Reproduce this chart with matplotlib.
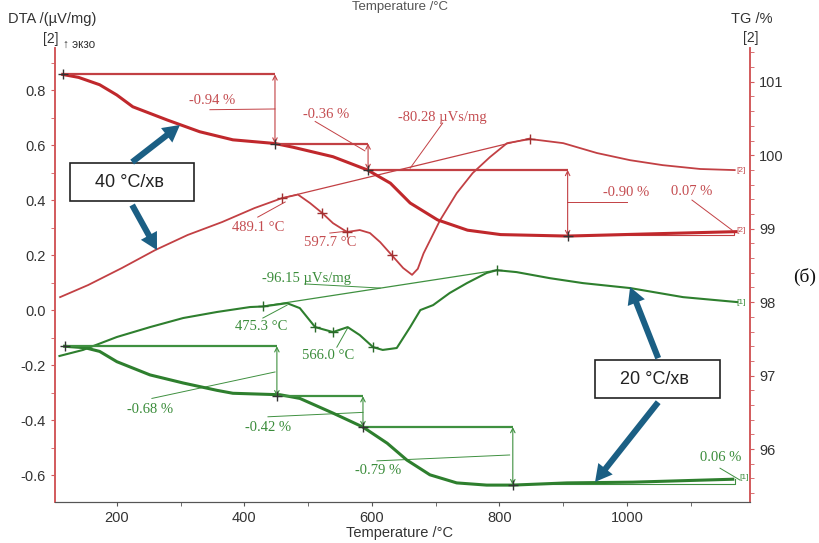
import matplotlib
matplotlib.use('Agg')
import matplotlib.pyplot as plt
from matplotlib.patches import Rectangle, FancyArrowPatch
from matplotlib.ticker import MultipleLocator

# ---------------- data ----------------
red_dta_T = [111, 155, 208, 260, 311, 365, 416, 459, 484, 503, 522, 539, 561, 581, 597, 613, 631, 649,
             663, 672, 681, 707, 733, 758, 785, 812, 848, 900, 953, 1005, 1056, 1115, 1169]
red_dta_v = [0.047, 0.091, 0.153, 0.218, 0.273, 0.320, 0.371, 0.407, 0.420, 0.389, 0.353, 0.316, 0.284,
             0.291, 0.280, 0.247, 0.200, 0.153, 0.128, 0.150, 0.206, 0.327, 0.425, 0.498, 0.556, 0.607,
             0.622, 0.607, 0.571, 0.545, 0.527, 0.513, 0.509]

red_tg_T = [115, 140, 173, 200, 225, 279, 330, 382, 448, 476, 539, 593, 629, 660, 703, 750, 802, 907,
            1037, 1171]
red_tg = [101.10, 101.06, 100.96, 100.82, 100.66, 100.48, 100.32, 100.21, 100.16, 100.11, 99.98, 99.80,
          99.62, 99.35, 99.12, 98.98, 98.92, 98.90, 98.93, 98.96]

green_dta_T = [110, 147, 200, 252, 304, 357, 409, 429, 467, 487, 511, 539, 562, 581, 602, 617, 639, 660,
               676, 696, 722, 749, 780, 796, 827, 879, 931, 1005, 1088, 1173]
green_dta_v = [-0.167, -0.145, -0.098, -0.062, -0.029, -0.007, 0.011, 0.013, 0.025, 0.007, -0.062, -0.080,
               -0.062, -0.091, -0.135, -0.145, -0.138, -0.062, 0.000, 0.018, 0.062, 0.098, 0.135, 0.145,
               0.138, 0.116, 0.098, 0.080, 0.047, 0.029]

green_tg_T = [118, 150, 173, 200, 252, 304, 357, 382, 456, 487, 539, 586, 624, 655, 691, 733, 780, 821,
              906, 1009, 1166]
green_tg = [97.40, 97.38, 97.33, 97.19, 97.01, 96.90, 96.80, 96.76, 96.74, 96.69, 96.49, 96.30, 96.08,
            95.85, 95.65, 95.54, 95.51, 95.51, 95.54, 95.55, 95.59]

# TG steps: temperatures of step boundaries and levels
red_step_T = [115, 448, 594, 907]
red_step_lv = [101.10, 100.16, 99.80, 98.90]
red_step_lbl = ['-0.94 %', '-0.36 %', '-0.90 %']
green_step_T = [118, 451, 586, 821]
green_step_lv = [97.40, 96.72, 96.30, 95.51]
green_step_lbl = ['-0.68 %', '-0.42 %', '-0.79 %']

# marker temperatures on curves
red_dta_marks_T = [459, 522, 561, 631, 848]
red_dta_marks_v = [0.407, 0.353, 0.284, 0.200, 0.622]
green_dta_marks_T = [429, 511, 539, 602, 796]
green_dta_marks_v = [0.013, -0.062, -0.080, -0.135, 0.145]

x_ticks = [200, 400, 600, 800, 1000]
dta_ticks = [-0.6, -0.4, -0.2, 0.0, 0.2, 0.4, 0.6, 0.8]
tg_ticks = [96, 97, 98, 99, 100, 101]

# ---------------- styling ----------------
RED_LINE = '#c0282c'
RED_THIN = '#c24044'
RED_TXT = '#c44c50'
GRN_LINE = '#2e7f2e'
GRN_THIN = '#3f9040'
GRN_TXT = '#3a8c3a'
SPINE_RED = '#d25a5c'
BLUE = '#1b5f84'
SERIF = ['Liberation Serif', 'DejaVu Serif']
SANS = ['Liberation Sans', 'DejaVu Sans']

plt.rcParams['font.family'] = SANS

fig = plt.figure(figsize=(8.2, 5.43), dpi=100)
ax = fig.add_axes([55 / 820, 1 - 502 / 543, 695 / 820, 454 / 543])
ax2 = ax.twinx()

ax.set_xlim(103, 1193)
ax.set_ylim(-0.698, 0.953)
ax2.set_ylim(95.28, 101.46)

for a in (ax, ax2):
    a.spines['top'].set_visible(False)
    a.spines['left'].set_color(SPINE_RED)
    a.spines['right'].set_color(SPINE_RED)
    a.spines['bottom'].set_color('#555555')
    a.spines['left'].set_linewidth(1.2)
    a.spines['right'].set_linewidth(1.2)

ax.set_xticks(x_ticks)
ax.xaxis.set_minor_locator(MultipleLocator(100))
ax.set_yticks(dta_ticks)
ax.set_yticklabels([f'{v:.1f}' for v in dta_ticks])
ax.yaxis.set_minor_locator(MultipleLocator(0.1))
ax2.set_yticks(tg_ticks)
ax2.yaxis.set_minor_locator(MultipleLocator(0.2))

ax.tick_params(axis='x', which='both', colors='#555555', labelcolor='#333333', labelsize=10.5, length=3)
ax.tick_params(axis='y', which='both', colors=SPINE_RED, labelcolor='#333333', labelsize=10.5, length=3)
ax2.tick_params(axis='y', which='both', colors=SPINE_RED, labelcolor='#333333', labelsize=10.5, length=3)

# ---------------- curves ----------------
ax.plot(red_dta_T, red_dta_v, color=RED_THIN, lw=1.3, zorder=3)
ax.plot(green_dta_T, green_dta_v, color=GRN_LINE, lw=1.5, zorder=3)
ax2.plot(red_tg_T, red_tg, color=RED_LINE, lw=2.2, zorder=3)
ax2.plot(green_tg_T, green_tg, color=GRN_LINE, lw=2.2, zorder=3)

ax.plot(red_dta_marks_T, red_dta_marks_v, ls='none', marker='+', ms=7, mew=1, color='#a03030', zorder=4)
ax.plot(green_dta_marks_T, green_dta_marks_v, ls='none', marker='+', ms=7, mew=1, color='#2a6a2a', zorder=4)

# peak baselines
ax.plot([459, 848], [0.407, 0.625], color=RED_THIN, lw=0.9)
ax.plot([432, 796], [0.015, 0.145], color=GRN_THIN, lw=0.9)


def steps(T, lv, lbl, col, tcol, lbl_pos, lead):
    for i in range(len(lbl)):
        ax2.hlines(lv[i], T[i], T[i + 1], color=col, lw=1.6, zorder=3)
        ax2.annotate('', xy=(T[i + 1], lv[i + 1]), xytext=(T[i + 1], lv[i]),
                     arrowprops=dict(arrowstyle='<->', lw=0.8, color=col,
                                     shrinkA=0, shrinkB=0, mutation_scale=8))
        ax2.text(lbl_pos[i][0], lbl_pos[i][1], lbl[i], color=tcol, fontsize=10.5,
                 family=SERIF, ha='center', va='center')
        ax2.plot(lead[i][0], lead[i][1], color=col, lw=0.7)
    ax2.plot(T, lv, ls='none', marker='+', ms=7, mew=1, color='#333333', zorder=4)


steps(red_step_T, red_step_lv, red_step_lbl, RED_THIN, RED_TXT,
      [(349, 100.74), (529, 100.56), (999, 99.49)],
      [([346, 448], [100.62, 100.63]), ([511, 589], [100.46, 100.06]), ([906, 1000], [99.37, 99.37])])
steps(green_step_T, green_step_lv, green_step_lbl, GRN_THIN, GRN_TXT,
      [(252, 96.545), (437, 96.29), (609, 95.71)],
      [([255, 448], [96.69, 97.05]), ([437, 586], [96.44, 96.50]), ([608, 816], [95.84, 95.92])])

# final small residue steps
ax2.text(1102, 99.51, '0.07 %', color=RED_TXT, fontsize=10.5, family=SERIF, ha='center', va='center')
ax2.plot([1102, 1165], [99.39, 98.98], color=RED_THIN, lw=0.7)
ax2.plot([907, 1168, 1168], [98.92, 98.92, 98.97], color=RED_THIN, lw=0.8)
ax2.text(1147, 95.89, '0.06 %', color=GRN_TXT, fontsize=10.5, family=SERIF, ha='center', va='center')
ax2.plot([1146, 1177], [95.74, 95.58], color=GRN_THIN, lw=0.7)
ax2.plot([821, 1170, 1170], [95.52, 95.52, 95.59], color=GRN_THIN, lw=0.8)

# curve-end tags
ax.text(1172, 0.509, '[2]', color=RED_TXT, fontsize=6, ha='left', va='center')
ax2.text(1172, 98.97, '[2]', color=RED_TXT, fontsize=6, ha='left', va='center')
ax.text(1172, 0.029, '[1]', color=GRN_TXT, fontsize=6, ha='left', va='center')
ax2.text(1176, 95.62, '[1]', color=GRN_TXT, fontsize=6, ha='left', va='center')

# DTA annotations
ax.text(421, 0.30, '489.1 °C', color=RED_TXT, fontsize=10.5, family=SERIF, ha='center', va='center')
ax.plot([421, 464], [0.338, 0.393], color=RED_THIN, lw=0.7)
ax.text(534, 0.244, '597.7 °C', color=RED_TXT, fontsize=10.5, family=SERIF, ha='center', va='center')
ax.plot([534, 561], [0.28, 0.287], color=RED_THIN, lw=0.7)
ax.text(710, 0.70, '-80.28 µVs/mg', color=RED_TXT, fontsize=10.5, family=SERIF, ha='center', va='center')
ax.plot([711, 660], [0.68, 0.516], color=RED_THIN, lw=0.7)

ax.text(497, 0.116, '-96.15 µVs/mg', color=GRN_TXT, fontsize=10.5, family=SERIF, ha='center', va='center')
ax.plot([495, 613], [0.095, 0.08], color=GRN_THIN, lw=0.7)
ax.text(427, -0.058, '475.3 °C', color=GRN_TXT, fontsize=10.5, family=SERIF, ha='center', va='center')
ax.plot([429, 467], [-0.029, 0.018], color=GRN_THIN, lw=0.7)
ax.text(531, -0.167, '566.0 °C', color=GRN_TXT, fontsize=10.5, family=SERIF, ha='center', va='center')
ax.plot([545, 562], [-0.135, -0.065], color=GRN_THIN, lw=0.7)

# heating-rate boxes and arrows (drawn on top axes, in DTA coordinates)
tr = ax.transData
for (x0, y0, x1, y1), label in [((126.3, 0.396, 321.0, 0.535), '40 °C/хв'),
                                 ((950.0, -0.320, 1146.0, -0.182), '20 °C/хв')]:
    ax2.add_patch(Rectangle((x0, y0), x1 - x0, y1 - y0, transform=tr, fill=True, fc='white',
                            ec='#222222', lw=1.2, zorder=6))
    ax2.text((x0 + x1) / 2 - 4, (y0 + y1) / 2, label, transform=tr, fontsize=13, color='#222222',
             ha='center', va='center', zorder=7)

for (a, b) in [((224, 0.538), (299, 0.673)), ((224, 0.382), (263, 0.218)),
               ((1049, -0.175), (1005, 0.084)), ((1049, -0.335), (950, -0.625))]:
    ax2.add_patch(FancyArrowPatch(a, b, transform=tr,
                                  arrowstyle='simple,head_length=1.1,head_width=1.2,tail_width=0.4',
                                  mutation_scale=11, color=BLUE, lw=0, zorder=8,
                                  shrinkA=0, shrinkB=0))

# ---------------- labels ----------------
fig.text(400 / 820, 1 - 533 / 543, 'Temperature /°C', ha='center', va='center', fontsize=10.5, color='#333333')
fig.text(400 / 820, 1 - 1 / 543, 'Temperature /°C', ha='center', va='top', fontsize=9.5, color='#555555')
fig.text(8 / 820, 1 - 19 / 543, 'DTA /(µV/mg)', ha='left', va='center', fontsize=10.5, color='#333333')
fig.text(51 / 820, 1 - 39 / 543, '[2]', ha='center', va='center', fontsize=10, color='#333333')
fig.text(63 / 820, 1 - 45 / 543, '↑ экзо', ha='left', va='center', fontsize=8.5, color='#333333')
fig.text(752 / 820, 1 - 19 / 543, 'TG /%', ha='center', va='center', fontsize=10.5, color='#333333')
fig.text(751 / 820, 1 - 38 / 543, '[2]', ha='center', va='center', fontsize=10, color='#333333')
fig.text(805 / 820, 1 - 277 / 543, '(б)', ha='center', va='center', fontsize=14, color='#111111',
         family=SERIF)

fig.savefig('out.png', dpi=100, facecolor='white')
